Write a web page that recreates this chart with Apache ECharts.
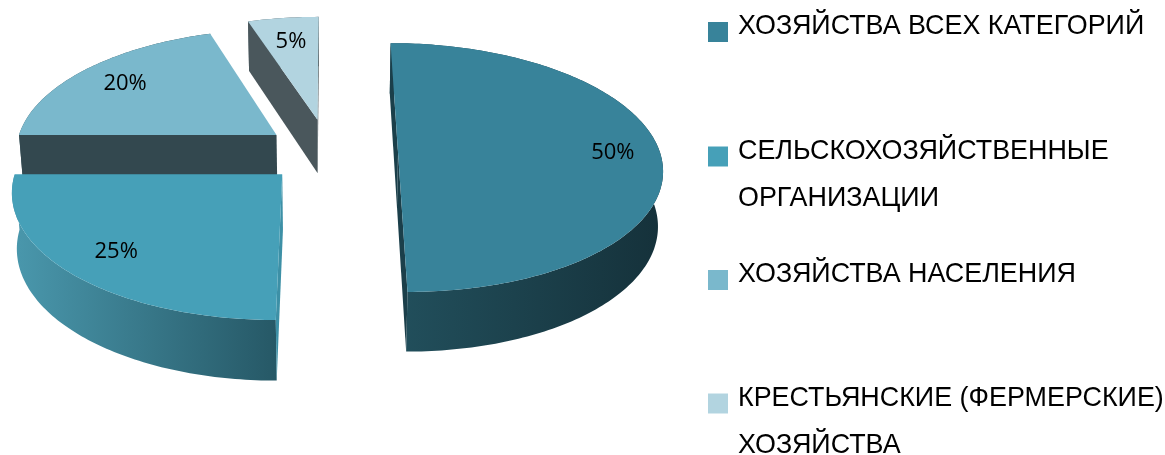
<!DOCTYPE html>
<html>
<head>
<meta charset="utf-8">
<script src="https://cdn.jsdelivr.net/npm/echarts@6/dist/echarts.min.js"></script>
<style>
html,body{margin:0;padding:0;background:#ffffff;}
#chart{width:1165px;height:455px;}
</style>
</head>
<body>
<div id="chart"></div>
<script>
// ---- data ----
const categories = [
  'ХОЗЯЙСТВА ВСЕХ КАТЕГОРИЙ',
  'СЕЛЬСКОХОЗЯЙСТВЕННЫЕ ОРГАНИЗАЦИИ',
  'ХОЗЯЙСТВА НАСЕЛЕНИЯ',
  'КРЕСТЬЯНСКИЕ (ФЕРМЕРСКИЕ) ХОЗЯЙСТВА'
];
const legendLines = [
  ['ХОЗЯЙСТВА ВСЕХ КАТЕГОРИЙ'],
  ['СЕЛЬСКОХОЗЯЙСТВЕННЫЕ', 'ОРГАНИЗАЦИИ'],
  ['ХОЗЯЙСТВА НАСЕЛЕНИЯ'],
  ['КРЕСТЬЯНСКИЕ (ФЕРМЕРСКИЕ)', 'ХОЗЯЙСТВА']
];
const values = [50, 25, 20, 5];

// ---- style / layout (not data) ----
const topColors  = ['#38839A', '#46A0B8', '#7AB8CC', '#B2D4E0'];
const wallColors = [['#22505D', '#15313A'], ['#4A98AD', '#265866'], ['#3C5A63', '#2E4349'], ['#56656B', '#454F54']];
const cutColors  = ['#1B3F4A', '#3D90A6', '#33484F', '#4A575C'];
const explode    = [0.265, 0.245, 0.25, 0.28];
const labelRadius = [0.82, 0.8, 0.78, 0.75];
const drawOrder  = [3, 2, 0, 1];
const legendTops = [13.5, 99.5, 261.5, 346.5];
const view = { cx: 328.6, cy: 152.6, scale: 262, alphaDeg: 27.9, dist: 7.37, thickness: 0.24 };

const total = values.reduce((a, b) => a + b, 0);
const startAngles = [];
(function () { let acc = 0; values.forEach(v => { startAngles.push(acc / total * 2 * Math.PI); acc += v; }); })();

const alpha = view.alphaDeg * Math.PI / 180;
const sa = Math.sin(alpha), ca = Math.cos(alpha);
function project(x, y, z) {
  const depth = view.dist - y * sa + z * ca;
  const k = view.scale * view.dist / depth;
  return [view.cx + x * k, view.cy - (y * ca + z * sa) * k];
}
const camera = [0, view.dist * sa, -view.dist * ca];

function makeRender(i) {
  return function (params, api) {
    const v = api.value(1);
    const t1 = startAngles[i];
    const t2 = t1 + v / total * 2 * Math.PI;
    const mid = (t1 + t2) / 2;
    const ox = explode[i] * Math.sin(mid), oz = explode[i] * Math.cos(mid);
    const h = view.thickness;
    const P = (t, r, y) => project(ox + r * Math.sin(t), y, oz + r * Math.cos(t));
    const N = Math.max(6, Math.ceil((t2 - t1) / (Math.PI / 180)));
    const topArc = [], botArc = [];
    for (let k = 0; k <= N; k++) {
      const t = t1 + (t2 - t1) * k / N;
      topArc.push(P(t, 1, 0));
      botArc.push(P(t, 1, -h));
    }
    const children = [];
    children.push({
      type: 'polygon',
      shape: { points: topArc.concat(botArc.slice().reverse()) },
      style: { fill: new echarts.graphic.LinearGradient(0, 0, 1, 0, [
        { offset: 0, color: wallColors[i][0] }, { offset: 1, color: wallColors[i][1] }]) }
    });
    [[t1, -1], [t2, 1]].forEach(([t, sgn]) => {
      const n = [sgn * Math.cos(t), 0, -sgn * Math.sin(t)];
      const pm = [ox + 0.5 * Math.sin(t), -h / 2, oz + 0.5 * Math.cos(t)];
      const dot = n[0] * (camera[0] - pm[0]) + n[1] * (camera[1] - pm[1]) + n[2] * (camera[2] - pm[2]);
      if (dot > 0) {
        children.push({
          type: 'polygon',
          shape: { points: [P(t, 0, 0), P(t, 1, 0), P(t, 1, -h), P(t, 0, -h)] },
          style: { fill: cutColors[i] }
        });
      }
    });
    children.push({
      type: 'polygon',
      shape: { points: [P(mid, 0, 0)].concat(topArc) },
      style: { fill: topColors[i] }
    });
    const lp = P(mid, labelRadius[i], 0);
    children.push({
      type: 'text',
      style: {
        text: Math.round(v / total * 100) + '%',
        x: lp[0], y: lp[1], align: 'center', verticalAlign: 'middle',
        font: '22px "Open Sans", "Noto Sans", sans-serif', fill: '#000000'
      }
    });
    return { type: 'group', children: children };
  };
}

function legendText(i) {
  const lines = legendLines[i];
  if (lines.length > 1) {
    return '{pre|\u00A0}\n' + lines.map(l => '{a|' + l + '}').join('\n') + '\n{post|\u00A0}';
  }
  return '{a|' + lines[0] + '}\n{post|\u00A0}';
}

const chart = echarts.init(document.getElementById('chart'), null, { renderer: 'canvas' });
const option = {
  animation: false,
  backgroundColor: '#ffffff',
  legend: categories.map((name, i) => ({
    data: [name],
    left: 708,
    top: legendTops[i],
    orient: 'vertical',
    icon: 'rect',
    itemWidth: 20,
    itemHeight: 20,
    itemGap: 0,
    padding: 0,
    selectedMode: false,
    formatter: () => legendText(i),
    textStyle: {
      fontFamily: '"Liberation Sans", Arial, sans-serif',
      fontSize: 26.9,
      color: '#000000',
      rich: {
        a: { fontFamily: '"Liberation Sans", Arial, sans-serif', fontSize: 26.9, color: '#000000', lineHeight: 47, padding: [0, 0, 0, 5] },
        pre: { fontSize: 10, lineHeight: 47 },
        post: { fontSize: 8, lineHeight: 10 }
      }
    }
  })),
  series: drawOrder.map((i, k) => ({
    type: 'custom',
    name: categories[i],
    coordinateSystem: 'none',
    silent: true,
    z: 2 + k,
    itemStyle: { color: topColors[i] },
    data: [[i, values[i]]],
    renderItem: makeRender(i)
  }))
};
chart.setOption(option);
</script>
</body>
</html>
